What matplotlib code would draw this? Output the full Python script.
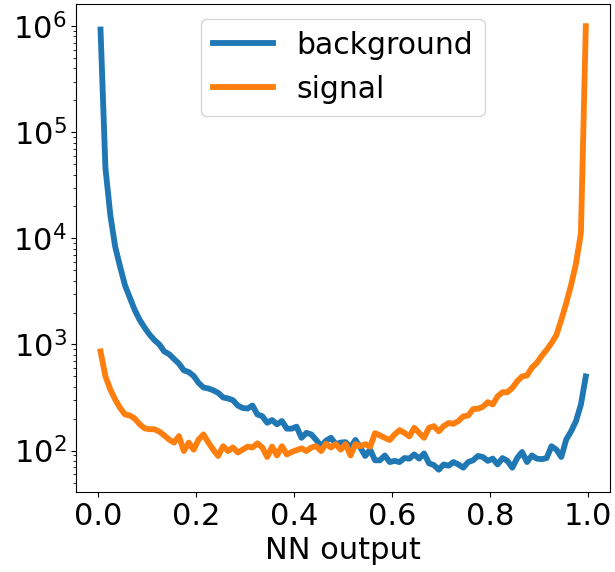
import numpy as np
import matplotlib
matplotlib.use('Agg')
import matplotlib.pyplot as plt

# NN output histogram, 100 bins between 0 and 1
bin_centers = np.arange(100) * 0.01 + 0.005
x_ticks = [0.0, 0.2, 0.4, 0.6, 0.8, 1.0]

background = [
    9.3e5, 4.6e4, 1.66e4, 8300, 5400, 3600, 2750, 2100, 1700, 1440,
    1240, 1100, 1000, 860, 810, 730, 660, 570, 550, 505,
    435, 393, 385, 370, 350, 317, 310, 299, 266, 252,
    249, 266, 219, 211, 183, 194, 177, 190, 161, 161,
    168, 132, 147, 142, 126, 110, 124, 132, 115, 119,
    120, 107, 126, 107, 89, 102, 81, 81, 90, 78,
    80, 78, 85, 84, 92, 84, 94, 76, 73, 66,
    74, 72, 78, 74, 69, 78, 81, 89, 87, 80,
    84, 74, 85, 80, 69, 85, 97, 78, 90, 84,
    83, 85, 110, 102, 87, 127, 152, 190, 272, 500,
]

signal = [
    860, 500, 376, 302, 252, 219, 214, 200, 177, 162,
    159, 159, 151, 139, 127, 119, 137, 99, 119, 102,
    127, 142, 119, 102, 89, 110, 99, 107, 96, 102,
    109, 107, 117, 107, 87, 109, 90, 110, 92, 97,
    101, 105, 99, 107, 110, 99, 116, 107, 115, 102,
    115, 90, 115, 110, 115, 109, 146, 139, 132, 126,
    142, 156, 147, 136, 164, 147, 132, 164, 170, 152,
    170, 182, 179, 190, 210, 214, 246, 248, 259, 286,
    272, 325, 355, 355, 390, 450, 500, 510, 605, 670,
    780, 890, 1030, 1230, 1710, 2450, 3640, 5820, 1.12e4, 1.0e6,
]

plt.rcParams['font.size'] = 22

fig = plt.figure(figsize=(6.15, 5.72), dpi=100)
ax = fig.add_axes([0.124, 0.140, 0.868, 0.853])

ax.plot(bin_centers, background, lw=4.2, label='background')
ax.plot(bin_centers, signal, lw=4.2, label='signal')
ax.set_yscale('log')
ax.set_xticks(x_ticks)
ax.set_xlabel('NN output')
ax.legend(loc='upper center', fontsize=21.5)

fig.savefig('out.png', dpi=100)
